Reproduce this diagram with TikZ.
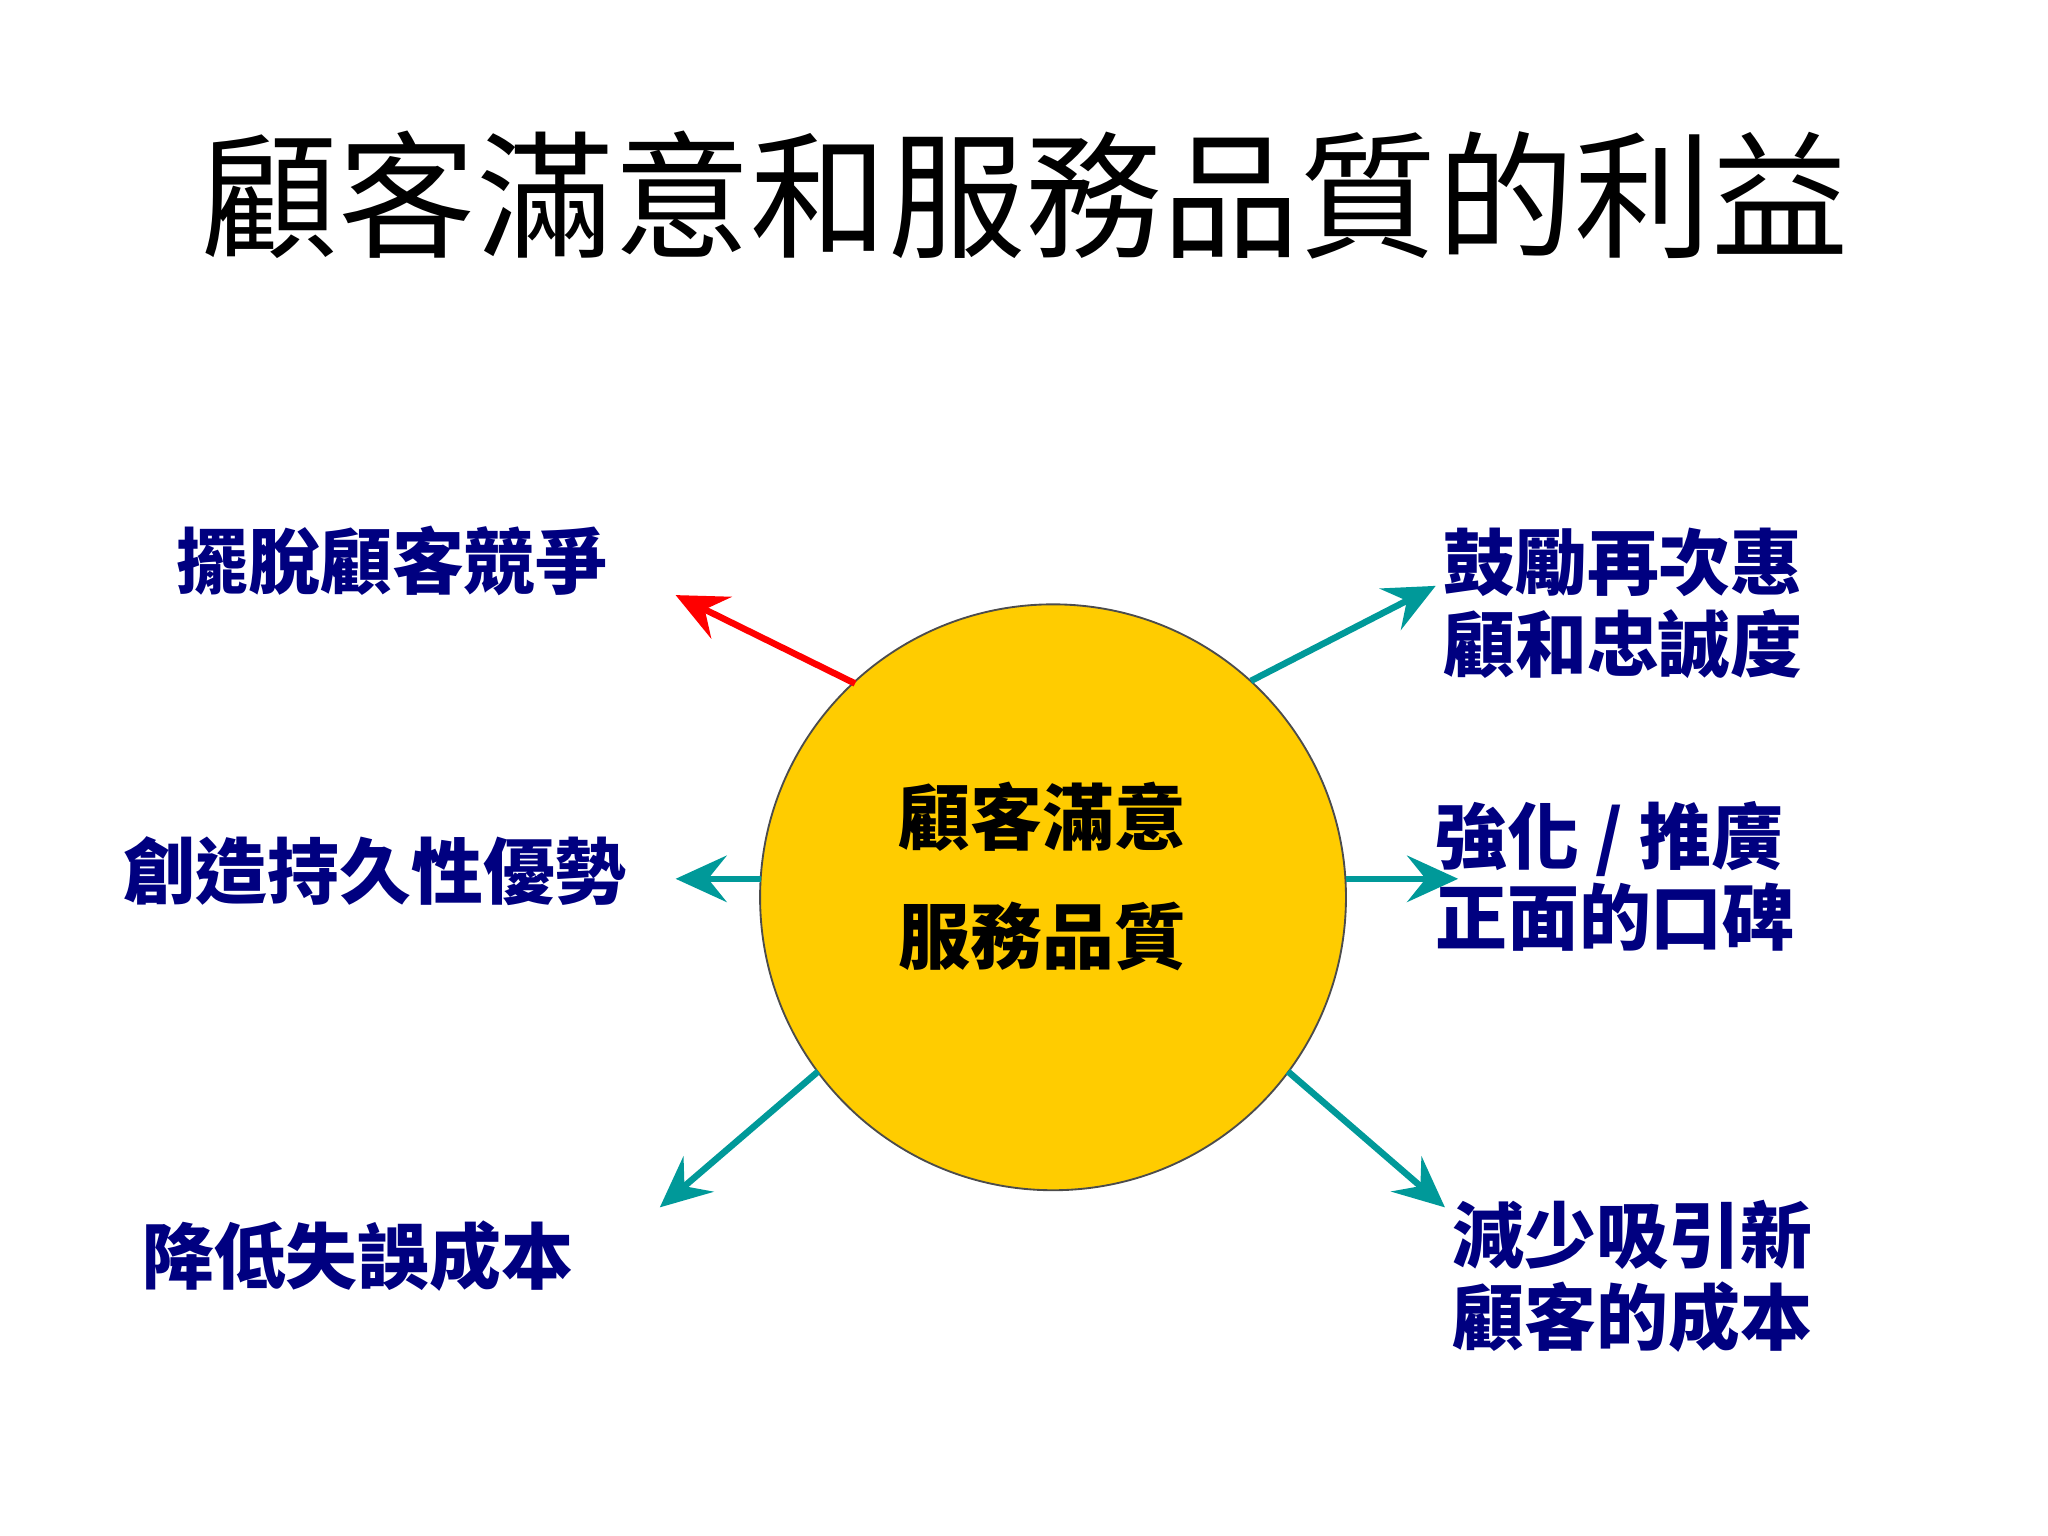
\documentclass[tikz,border=0pt]{standalone}
\usepackage{fontspec}
\setmainfont{Noto Sans CJK TC}
\usetikzlibrary{arrows.meta}
\definecolor{navy}{HTML}{000080}
\definecolor{teal2}{HTML}{009999}
\definecolor{sun}{HTML}{FFCC00}
\begin{document}
\begin{tikzpicture}[
  lbl/.style={font=\fontsize{15.5}{17.6}\selectfont\bfseries, text=navy, align=left, inner sep=0pt},
  arr/.style={line width=1.4pt, draw=teal2, -{Stealth[length=11pt,width=10pt,inset=4pt]}},
  rarr/.style={line width=1.4pt, draw=red, -{Stealth[length=11pt,width=10pt,inset=4pt]}}]
\useasboundingbox (0,0) rectangle (15.52,11.64);
\node (title) at (7.77,10.16) {\fontsize{29.6}{34}\selectfont 顧客滿意和服務品質的利益};
\node[circle, fill=sun, draw=black!70, line width=0.4pt, minimum size=4.44cm, inner sep=0pt] (c) at (7.98,4.84) {};
\node[font=\fontsize{15.5}{25.6}\selectfont\bfseries, align=center] (ct) at (7.9,5.0) {顧客滿意\\服務品質};
\node[lbl, anchor=west] (l1) at (1.33,7.39) {擺脫顧客競爭};
\node[lbl, anchor=west] (l2) at (0.93,5.04) {創造持久性優勢};
\node[lbl, anchor=west] (l3) at (1.07,2.12) {降低失誤成本};
\node[lbl, anchor=west] (r1) at (10.93,7.07) {鼓勵再次惠\\顧和忠誠度};
\node[lbl, anchor=west] (r2) at (10.87,5.0) {強化 / 推廣\\正面的口碑};
\node[lbl, anchor=west] (r3) at (11.00,1.97) {減少吸引新\\顧客的成本};
\coordinate (s1) at (6.48,6.46);
\coordinate (s2) at (5.77,4.98);
\coordinate (s3) at (6.20,3.52);
\coordinate (t1) at (9.48,6.48);
\coordinate (t2) at (10.20,4.98);
\coordinate (t3) at (9.76,3.52);
\coordinate (e1) at (5.12,7.13);
\coordinate (e2) at (5.12,4.98);
\coordinate (e3) at (5.00,2.49);
\coordinate (f1) at (10.88,7.20);
\coordinate (f2) at (11.05,4.98);
\coordinate (f3) at (10.95,2.49);
\draw[rarr] (s1) -- (e1);
\draw[arr] (s2) -- (e2);
\draw[arr] (s3) -- (e3);
\draw[arr] (t1) -- (f1);
\draw[arr] (t2) -- (f2);
\draw[arr] (t3) -- (f3);
\end{tikzpicture}
\end{document}
